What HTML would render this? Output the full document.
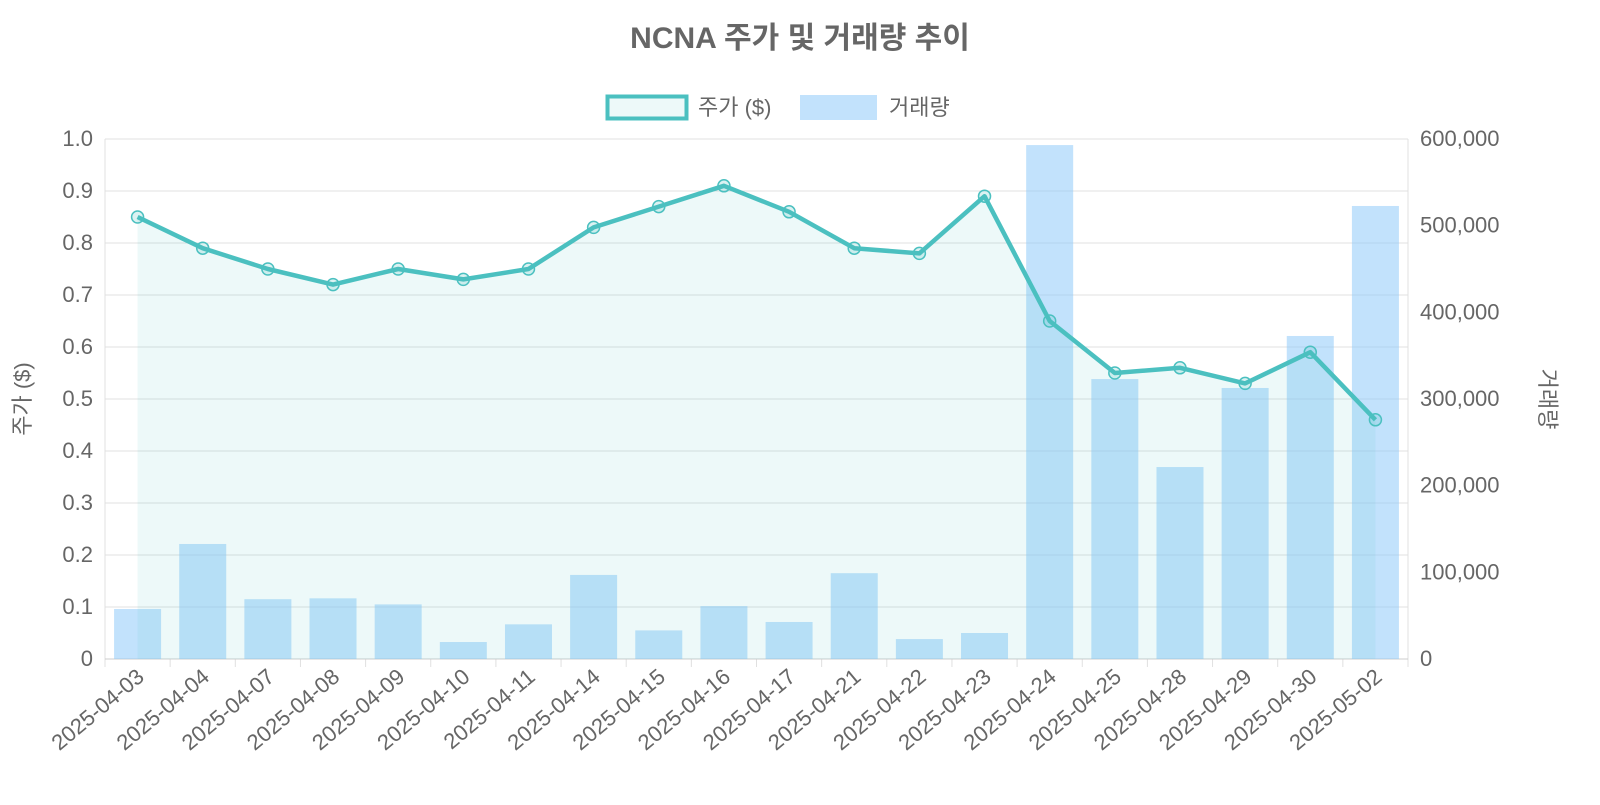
<!DOCTYPE html>
<html><head><meta charset="utf-8"><style>
body{margin:0;background:#fff}
svg text{font-family:"Liberation Sans","Noto Sans CJK KR",sans-serif;fill:#666}
</style></head><body>
<svg id="c" width="1600" height="800"></svg>
<script>
const categories=["2025-04-03","2025-04-04","2025-04-07","2025-04-08","2025-04-09","2025-04-10","2025-04-11","2025-04-14","2025-04-15","2025-04-16","2025-04-17","2025-04-21","2025-04-22","2025-04-23","2025-04-24","2025-04-25","2025-04-28","2025-04-29","2025-04-30","2025-05-02"];
const prices=[0.85,0.79,0.75,0.72,0.75,0.73,0.75,0.83,0.87,0.91,0.86,0.79,0.78,0.89,0.65,0.55,0.56,0.53,0.59,0.46];
const volumes=[57700,132700,69000,70000,63000,19600,40000,97000,33000,61000,42700,99000,23000,30000,593000,323000,221500,312700,372700,522700];
const leftTicks=[0,0.1,0.2,0.3,0.4,0.5,0.6,0.7,0.8,0.9,1.0];
const rightTicks=[0,100000,200000,300000,400000,500000,600000];
const NS="http://www.w3.org/2000/svg";
const svg=document.getElementById('c');
const L=105,R=1408,T=139,B=659;
const step=(R-L)/categories.length;
const xC=i=>L+step*(i+0.5);
const yL=v=>B-(v/1.0)*(B-T);
const yR=v=>B-(v/600000)*(B-T);
function el(tag,attrs,name,txt){const e=document.createElementNS(NS,tag);for(const k in attrs)e.setAttribute(k,attrs[k]);


if(txt!==undefined)e.textContent=txt;svg.appendChild(e);return e;}
leftTicks.forEach(t=>{el('line',{x1:L,x2:R,y1:yL(t),y2:yL(t),stroke:'#e0e0e0','stroke-width':1},'grid-line');
el('text',{x:L-12,y:yL(t)+7,'text-anchor':'end','font-size':22},'left-tick-label',t===0?'0':t.toFixed(1));});
rightTicks.forEach(t=>{el('text',{x:R+12,y:yR(t)+7,'font-size':22},'right-tick-label',t.toLocaleString('en-US'));});
for(let i=0;i<=categories.length;i++){el('line',{x1:L+step*i,x2:L+step*i,y1:B,y2:B+8,stroke:'#e0e0e0'},'x-tick');}
el('line',{x1:L,x2:L,y1:T,y2:B,stroke:'#e0e0e0'},'left-axis');
el('line',{x1:R,x2:R,y1:T,y2:B,stroke:'#e0e0e0'},'right-axis');
el('line',{x1:L,x2:R,y1:B,y2:B,stroke:'#ccc'},'x-axis');
volumes.forEach((v,i)=>{el('rect',{x:xC(i)-23.5,y:yR(v),width:47,height:B-yR(v),fill:'rgba(144,202,249,0.55)'},'bar-volume-'+categories[i]);});
let d=prices.map((p,i)=>(i?'L':'M')+xC(i)+','+yL(p)).join(' ');
el('path',{d:d+` L${xC(prices.length-1)},${B} L${xC(0)},${B} Z`,fill:'rgba(75,192,192,0.1)'},'price-area');
el('path',{d:d,fill:'none',stroke:'#4bc0c0','stroke-width':4.5,'stroke-linejoin':'round'},'price-line');
prices.forEach((p,i)=>el('circle',{cx:xC(i),cy:yL(p),r:6,fill:'rgba(75,192,192,0.2)',stroke:'#4bc0c0','stroke-width':1.5},'price-point-'+categories[i]));
categories.forEach((c,i)=>{const x=xC(i)+8,y=B+20;el('text',{x:x,y:y,'text-anchor':'end','font-size':22,transform:`rotate(-40 ${x} ${y})`},'x-tick-label',c);});
el('text',{x:800,y:48,'text-anchor':'middle','font-size':30,'font-weight':'bold'},'chart-title','NCNA 주가 및 거래량 추이');
el('text',{x:0,y:0,'text-anchor':'middle','font-size':22,transform:`translate(30 ${(T+B)/2}) rotate(-90)`},'left-axis-title','주가 ($)');
el('text',{x:0,y:0,'text-anchor':'middle','font-size':22,transform:`translate(1540 ${(T+B)/2}) rotate(90)`},'right-axis-title','거래량');
el('rect',{x:607.5,y:96.5,width:79,height:22,fill:'rgba(75,192,192,0.1)',stroke:'#4bc0c0','stroke-width':4},'legend-price-swatch');
el('text',{x:698,y:115,'font-size':22},'legend-price-label','주가 ($)');
el('rect',{x:800,y:95,width:77,height:25,fill:'rgba(144,202,249,0.55)'},'legend-volume-swatch');
el('text',{x:889,y:115,'font-size':22},'legend-volume-label','거래량');
</script>
</body></html>
